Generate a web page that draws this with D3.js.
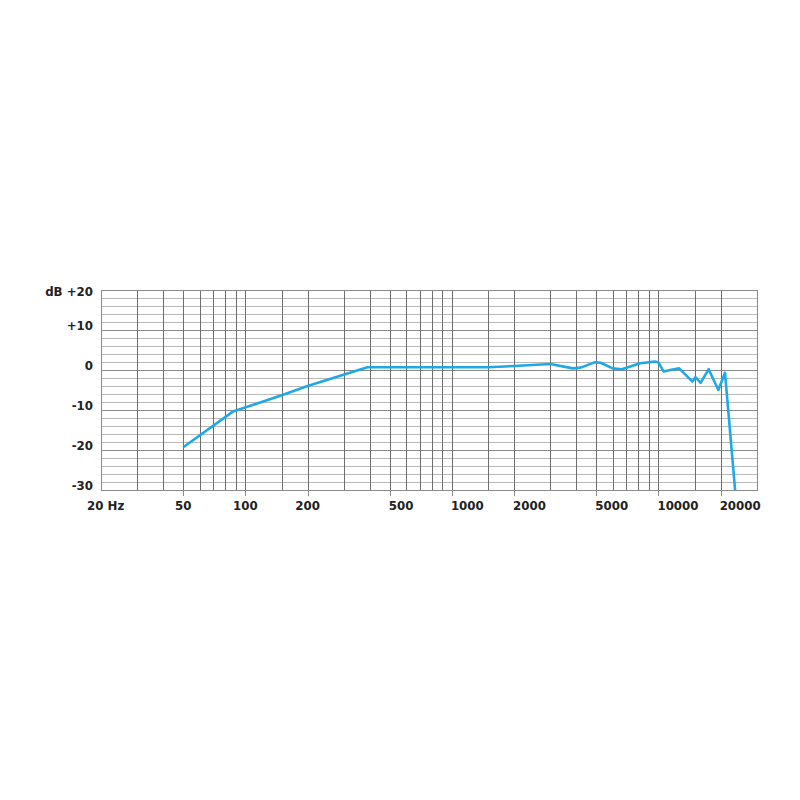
<!DOCTYPE html>
<html>
<head>
<meta charset="utf-8">
<script src="https://cdn.jsdelivr.net/npm/d3@7"></script>
<style>
  body { margin: 0; background: #fff; }
  svg text { font-family: "DejaVu Sans", sans-serif; font-weight: bold; font-size: 11.8px; fill: #222; }
</style>
</head>
<body>
<script>
// frequency response data (Hz, dB)
var freqs = [50, 87, 117, 150, 200, 390, 1500, 2000, 3000, 3850, 4200, 4900, 5250, 6000, 6650, 8150, 9600, 10000, 10600, 11400, 12600, 14600, 15100, 16000, 17500, 19500, 21000, 23500];
var levels = [-19.3, -10.4, -8.2, -6.3, -4, 0.7, 0.7, 1.0, 1.5, 0.4, 0.6, 1.9, 1.8, 0.4, 0.2, 1.7, 2.1, 1.9, -0.4, 0, 0.4, -2.9, -1.8, -3.2, 0.2, -5, -0.7, -30];

// grid + tick labels
var gridFreqs = [30, 40, 50, 60, 70, 80, 90, 100, 150, 200, 300, 400, 500, 600, 700, 800, 900, 1000, 1500, 2000, 3000, 4000, 5000, 6000, 7000, 8000, 9000, 10000, 15000, 20000];
var xLabels = [20, 50, 100, 200, 500, 1000, 2000, 5000, 10000, 20000];
var yLabels = [20, 10, 0, -10, -20, -30];

var width = 800, height = 800;
var svg = d3.select("body").append("svg")
    .attr("width", width)
    .attr("height", height);

var x = d3.scaleLog().domain([20, 30000]).range([101, 757]);
var y = d3.scaleLinear().domain([-30, 20]).range([490, 290]);

var grid = svg.append("g");

// horizontal lines every 2 dB
grid.selectAll("line.h")
    .data(d3.range(-30, 21, 2))
    .enter().append("line")
    .attr("x1", x(20)).attr("x2", x(30000))
    .attr("y1", d => Math.round(y(d)) + 0.5)
    .attr("y2", d => Math.round(y(d)) + 0.5)
    .style("stroke", d => d % 10 == 0 ? "#8a8a8a" : "#b8b8b8")
    .style("stroke-width", 1);

// vertical lines
grid.selectAll("line.v")
    .data(gridFreqs)
    .enter().append("line")
    .attr("x1", d => Math.round(x(d)) + 0.5)
    .attr("x2", d => Math.round(x(d)) + 0.5)
    .attr("y1", y(20)).attr("y2", y(-30))
    .style("stroke", "#6e6e6e")
    .style("stroke-width", 1);

// frame
svg.append("rect")
    .attr("x", x(20) + 0.5).attr("y", y(20) + 0.5)
    .attr("width", x(30000) - x(20)).attr("height", y(-30) - y(20))
    .style("fill", "none")
    .style("stroke", "#8a8a8a");

// small ticks below bottom edge
svg.selectAll("line.tick")
    .data(xLabels.slice(1))
    .enter().append("line")
    .attr("x1", d => Math.round(x(d)) + 0.5)
    .attr("x2", d => Math.round(x(d)) + 0.5)
    .attr("y1", y(-30)).attr("y2", y(-30) + 6)
    .style("stroke", "#8a8a8a");

// x labels: low ones centred, the rest start at their tick
svg.selectAll("text.x")
    .data(xLabels)
    .enter().append("text")
    .attr("x", d => d == 20 ? 87 : (d < 500 ? x(d) : x(d) - 1))
    .attr("y", 510)
    .attr("text-anchor", d => (d > 20 && d < 500) ? "middle" : "start")
    .text(d => d == 20 ? "20 Hz" : d);

// y labels
svg.selectAll("text.y")
    .data(yLabels)
    .enter().append("text")
    .attr("x", 93)
    .attr("y", d => d == 20 ? y(d) + 6 : y(d) - 0.5)
    .attr("text-anchor", "end")
    .text(d => d > 0 ? (d == 20 ? "dB +20" : "+" + d) : d);

// response curve
var line = d3.line()
    .x((d, i) => x(freqs[i]))
    .y(d => y(d));

svg.append("path")
    .datum(levels)
    .attr("d", line)
    .style("fill", "none")
    .style("stroke", "#1ea8e8")
    .style("stroke-width", 2.6)
    .style("stroke-linejoin", "round");
</script>
</body>
</html>
